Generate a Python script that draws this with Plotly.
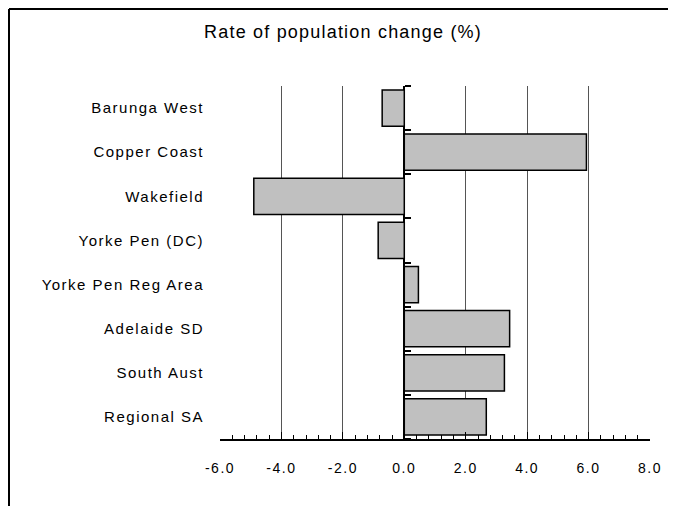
import plotly.graph_objects as go

categories = ["Barunga West", "Copper Coast", "Wakefield", "Yorke Pen (DC)",
              "Yorke Pen Reg Area", "Adelaide SD", "South Aust", "Regional SA"]
values = [-0.72, 5.93, -4.9, -0.85, 0.46, 3.43, 3.26, 2.67]
x_ticks = [-6, -4, -2, 0, 2, 4, 6, 8]
x_ticklabels = ["-6.0", "-4.0", "-2.0", "0.0", "2.0", "4.0", "6.0", "8.0"]
title_text = "Rate of population change (%)"

W, H = 676, 506
OFF = 8  # page body margin
# target plot area in window pixels: x 220..650, y 86..439
L = 220 - OFF
R = W - (650 - OFF)
T = 86 - OFF
B = H - (439 - OFF)
FONT = "Liberation Sans, Arial, sans-serif"


def spaced(s, px):
    return f"<span style='letter-spacing:{px}px'>{s}</span>"


fig = go.Figure()
fig.add_trace(go.Bar(
    x=values, y=categories, orientation="h",
    marker=dict(color="#c0c0c0", line=dict(color="black", width=1.5)),
    showlegend=False, hoverinfo="x+y",
))
# helper (invisible) trace to render the category-boundary ticks on the zero line
fig.add_trace(go.Scatter(x=[None], y=[None], yaxis="y2", showlegend=False, hoverinfo="skip"))

n = len(categories)
boundaries = [i - 0.5 for i in range(n + 1)]
xmin, xmax = x_ticks[0], x_ticks[-1]

fig.update_layout(
    width=W, height=H,
    margin=dict(l=L, r=R, t=T, b=B),
    paper_bgcolor="white", plot_bgcolor="white",
    font=dict(family=FONT, size=15, color="black"),
    bargap=0.18,
    title=dict(text=spaced(title_text, 1.2), x=(343 - OFF) / W, xanchor="center",
               y=1 - (32 - OFF) / H, yanchor="middle",
               font=dict(family=FONT, size=18, color="black")),
    xaxis=dict(
        range=[xmin, xmax], tickvals=x_ticks, ticktext=[spaced(t, 1.5) for t in x_ticklabels],
        showgrid=True, gridcolor="#555555", gridwidth=1,
        zeroline=True, zerolinecolor="black", zerolinewidth=1.5,
        showline=True, linecolor="black", linewidth=1.5,
        ticks="inside", ticklen=7, tickcolor="black", tickwidth=1,
        minor=dict(dtick=0.4, ticks="inside", ticklen=4, tickcolor="black", showgrid=False),
        tickfont=dict(size=14), ticklabelstandoff=15,
        fixedrange=True,
    ),
    yaxis=dict(
        categoryorder="array", categoryarray=categories,
        tickvals=categories, ticktext=[spaced(c, 1.5) for c in categories],
        range=[n - 0.5, -0.5],
        showgrid=False, zeroline=False, showline=False,
        ticks="", tickfont=dict(size=15), ticklabelstandoff=15,
    ),
    yaxis2=dict(
        overlaying="y", anchor="free", position=(0 - xmin) / (xmax - xmin), side="right",
        range=[n - 0.5, -0.5], tickvals=boundaries, showticklabels=False,
        ticks="outside", ticklen=6, tickcolor="black", tickwidth=1.5,
        showgrid=False, zeroline=False, showline=False,
    ),
)

# figure frame: top and left edges only (window px -> paper coords)
pw = W - L - R
ph = H - T - B
def px_to_paper_x(px):
    return (px - OFF - L) / pw
def px_to_paper_y(py):
    return (H - B - (py - OFF)) / ph
top_y = max(5, OFF + 1)
fig.add_shape(type="line", xref="paper", yref="paper",
              x0=px_to_paper_x(9), x1=px_to_paper_x(W + OFF), y0=px_to_paper_y(top_y), y1=px_to_paper_y(top_y),
              line=dict(color="black", width=2))
fig.add_shape(type="line", xref="paper", yref="paper",
              x0=px_to_paper_x(9), x1=px_to_paper_x(9), y0=px_to_paper_y(top_y), y1=px_to_paper_y(H + OFF),
              line=dict(color="black", width=2))

fig.write_html("out.html")
